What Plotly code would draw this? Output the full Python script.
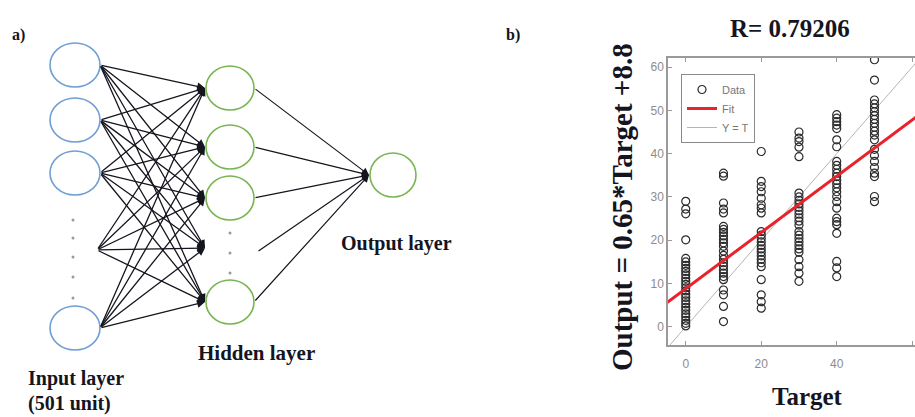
import plotly.graph_objects as go

W, H = 915, 417

# ---------------- regression data: network output per target level ----------------
target_levels = [0, 10, 20, 30, 40, 50]
output_t0 = [29.0, 27.2, 26.1, 20.1, 15.8, 15.0, 14.2, 13.5, 12.8, 12.0, 11.2, 10.5,
             9.8, 9.0, 8.3, 7.5, 6.8, 6.0, 5.3, 4.5, 3.8, 3.0, 2.3, 1.5, 0.8, 0.2]
output_t10 = [35.5, 34.8, 28.6, 27.2, 26.3, 23.2, 22.5, 21.8, 21.0, 20.2, 19.4, 18.6,
              17.5, 16.5, 15.6, 14.8, 14.0, 13.2, 12.4, 11.6, 10.9, 8.5, 7.4, 4.7, 1.2]
output_t20 = [40.5, 33.6, 32.4, 31.2, 29.7, 28.2, 27.4, 26.3, 22.0, 21.2, 20.4, 19.6,
              18.8, 18.0, 17.2, 16.4, 15.6, 14.8, 13.9, 10.9, 7.4, 5.8, 4.3]
output_t30 = [45.0, 43.6, 42.8, 41.5, 39.3, 30.9, 30.0, 29.2, 28.4, 27.6, 26.8, 26.0,
              25.2, 24.4, 23.5, 22.0, 21.2, 20.4, 19.6, 18.8, 18.0, 17.2, 15.5, 13.9,
              12.4, 10.5]
output_t40 = [49.0, 48.2, 47.4, 46.6, 45.8, 43.2, 41.6, 38.2, 37.3, 36.4, 35.5, 34.7,
              33.8, 33.0, 32.1, 31.2, 30.1, 28.9, 27.4, 25.1, 24.3, 23.6, 21.6, 15.1,
              13.6, 11.6]
output_t50 = [61.7, 57.0, 52.4, 51.5, 50.6, 49.7, 48.8, 47.9, 47.0, 46.1, 45.2, 44.3,
              43.2, 41.0, 39.6, 38.2, 36.8, 35.5, 34.7, 30.1, 28.9]
outputs_by_level = [output_t0, output_t10, output_t20, output_t30, output_t40, output_t50]

fit_slope = 0.65
fit_intercept = 8.8
r_value = 0.79206

x_ticks = [0, 20, 40, 60]
y_ticks = [0, 10, 20, 30, 40, 50, 60]

# ---------------- network diagram layout (pixel units of panel a) ----------------
input_x = 75
input_y = [65, 120, 173, 328]
input_gap_y = 250          # where the elided input units fan out
input_dots_y = [220, 238, 257, 277, 298]

hidden_x = 230
hidden_y = [88, 147, 198, 302]
hidden_gap_y = 248
hidden_dots_y = [233, 253, 273]

output_x = 393
output_y = 175

node_rx, node_ry = 25, 22
blue = "#6f9fd3"
green = "#79b552"
ink = "#15151f"
serif = "Liberation Serif, Times New Roman, serif"

fig = go.Figure()

# ---- panel a: nodes ----
shapes = []
def ellipse(cx, cy, color, rx=node_rx, ry=node_ry):
    return dict(type="circle", xref="x", yref="y",
                x0=cx - rx, x1=cx + rx, y0=cy - ry, y1=cy + ry,
                line=dict(color=color, width=1.6), fillcolor="rgba(0,0,0,0)")

for y in input_y:
    shapes.append(ellipse(input_x, y, blue))
for y in hidden_y:
    shapes.append(ellipse(hidden_x, y, green, rx=24))
shapes.append(ellipse(output_x, output_y, green, rx=23))

# ellipsis dots between units
fig.add_trace(go.Scatter(
    x=[input_x - 2] * len(input_dots_y) + [hidden_x] * len(hidden_dots_y),
    y=input_dots_y + hidden_dots_y,
    mode="markers", marker=dict(size=3, color="#9a9a9a"),
    xaxis="x", yaxis="y", showlegend=False, hoverinfo="skip"))

# ---- panel a: connections ----
annotations = []
sources = [(input_x + node_rx, y) for y in input_y] + [(input_x + 22, input_gap_y)]
targets = [(hidden_x - 25, y) for y in hidden_y] + [(hidden_x - 25, hidden_gap_y)]
for sx, sy in sources:
    for tx, ty in targets:
        annotations.append(dict(
            x=tx, y=ty, ax=sx, ay=sy, xref="x", yref="y", axref="x", ayref="y",
            showarrow=True, arrowhead=2, arrowsize=1.2, arrowwidth=1.3,
            arrowcolor=ink, standoff=0, text=""))

hidden_sources = [(hidden_x + 24, y) for y in hidden_y] + [(hidden_x + 27, hidden_gap_y + 4)]
for sx, sy in hidden_sources:
    annotations.append(dict(
        x=output_x - 24, y=output_y, ax=sx, ay=sy, xref="x", yref="y",
        axref="x", ayref="y", showarrow=True, arrowhead=2, arrowsize=1.2,
        arrowwidth=1.2, arrowcolor=ink, standoff=0, text=""))

# ---- panel a: labels ----
def label(text, x, y, size, xanchor="left", yanchor="middle", angle=0):
    return dict(text=f"<b>{text}</b>", x=x / W, y=1 - y / H, xref="paper", yref="paper",
                showarrow=False, xanchor=xanchor, yanchor=yanchor, textangle=angle,
                font=dict(family=serif, size=size, color=ink))

annotations += [
    label("a)", 10, 35, 16),
    label("Input layer", 26, 378, 20),
    label("(501 unit)", 26, 403, 20),
    label("Hidden layer", 196, 353, 21),
    label("Output layer", 339, 243, 20),
    label("b)", 504, 35, 16),
]

# ---- panel b: regression plot ----
line_x = [-5, 62]
fig.add_trace(go.Scatter(
    x=line_x, y=line_x, mode="lines", name="Y = T", legendrank=3,
    line=dict(color="#b5b5b5", width=1), xaxis="x2", yaxis="y2"))

data_x, data_y = [], []
for t, vals in zip(target_levels, outputs_by_level):
    data_x += [t] * len(vals)
    data_y += vals
fig.add_trace(go.Scatter(
    x=data_x, y=data_y, mode="markers", name="Data", legendrank=1,
    marker=dict(symbol="circle-open", size=8, color="#2b2b2b", line=dict(width=1.2)),
    xaxis="x2", yaxis="y2"))

fit_y = [fit_slope * v + fit_intercept for v in line_x]
fig.add_trace(go.Scatter(
    x=line_x, y=fit_y, mode="lines", name="Fit", legendrank=2,
    line=dict(color="#e8232b", width=3), xaxis="x2", yaxis="y2"))

annotations += [
    label(f"R= {r_value}", 790, 28, 25, xanchor="center"),
    label("Target", 807, 396, 25, xanchor="center"),
    label(f"Output = {fit_slope}*Target +{fit_intercept}", 622, 207, 29,
          xanchor="center", angle=-90),
]

axis_gray = "#9a9a9a"
tick_font = dict(family="Liberation Sans, Arial, sans-serif", size=12, color="#8c8c8c")

fig.update_layout(
    width=W, height=H,
    margin=dict(l=0, r=0, t=0, b=0),
    paper_bgcolor="white", plot_bgcolor="white",
    showlegend=True,
    legend=dict(x=681 / W, y=1 - 74 / H, xanchor="left", yanchor="top",
                bordercolor="#8a8a8a", borderwidth=1, bgcolor="white",
                font=dict(family="Liberation Sans, Arial, sans-serif", size=11, color="#777"),
                tracegroupgap=0, itemwidth=30),
    xaxis=dict(domain=[0, 460 / W], range=[0, 460], visible=False, fixedrange=True),
    yaxis=dict(domain=[0, 1], range=[H, 0], visible=False, fixedrange=True),
    xaxis2=dict(domain=[668 / W, 1], range=[-4.7, 60.74], anchor="y2",
                showline=True, linecolor=axis_gray, linewidth=1.5, mirror="ticks",
                ticks="inside", ticklen=4, tickcolor=axis_gray, tickvals=x_ticks,
                tickfont=tick_font, ticklabelstandoff=7,
                showgrid=False, zeroline=False),
    yaxis2=dict(domain=[1 - 345 / H, 1 - 58 / H], range=[-4.2, 62.1], anchor="x2",
                showline=True, linecolor=axis_gray, linewidth=1.5, mirror=False,
                ticks="inside", ticklen=4, tickcolor=axis_gray, tickvals=y_ticks,
                tickfont=tick_font, showgrid=False, zeroline=False),
    shapes=shapes,
    annotations=annotations,
)

fig.write_html("out.html")
